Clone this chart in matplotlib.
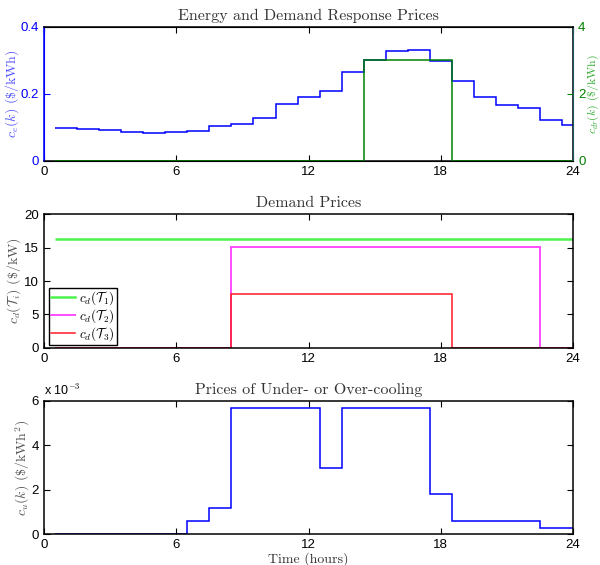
import numpy as np
import matplotlib
matplotlib.use('Agg')
import matplotlib.pyplot as plt
from matplotlib.ticker import FuncFormatter

plt.rcParams['font.family'] = ['Liberation Sans', 'DejaVu Sans']
plt.rcParams['mathtext.fontset'] = 'cm'
plt.rcParams['xtick.direction'] = 'in'
plt.rcParams['ytick.direction'] = 'in'

# hourly data, each value holds from k-0.5 to k+0.5
hour_edges = np.arange(0.5, 25.0, 1.0)

energy_price = [0.099, 0.096, 0.093, 0.086, 0.083, 0.087, 0.090, 0.104,
                0.111, 0.128, 0.170, 0.191, 0.209, 0.264, 0.301, 0.329,
                0.331, 0.299, 0.238, 0.190, 0.167, 0.158, 0.123, 0.106]
dr_price = [0, 0, 0, 0, 0, 0, 0, 0, 0, 0, 0, 0, 0, 0,
            3, 3, 3, 3, 0, 0, 0, 0, 0, 0]

demand_T1 = [16.3] * 24
demand_T2 = [0] * 8 + [15.15] * 14 + [0] * 2
demand_T3 = [0] * 8 + [8.1] * 10 + [0] * 6

cool_price = [0, 0, 0, 0, 0, 0, 0.6e-3, 1.2e-3, 5.7e-3, 5.7e-3, 5.7e-3,
              5.7e-3, 3.0e-3, 5.7e-3, 5.7e-3, 5.7e-3, 5.7e-3, 1.8e-3,
              0.6e-3, 0.6e-3, 0.6e-3, 0.6e-3, 0.3e-3, 0.3e-3]

xticks = [0, 6, 12, 18, 24]
serif = 'cmr10'
lab_col = '#555555'
title_kw = dict(family=serif, fontsize=11.5, color='#333333', pad=5)

fig = plt.figure(figsize=(6.0, 5.65), dpi=100)
ax1 = fig.add_axes([0.0733, 0.7156, 0.882, 0.237])
ax2 = fig.add_axes([0.0733, 0.3846, 0.882, 0.236])
ax3 = fig.add_axes([0.0733, 0.0543, 0.882, 0.236])

# --- top: energy and DR prices
blue = (0, 0, 1)
dgreen = (0, 0.5, 0)
ax1.stairs(energy_price, hour_edges, baseline=None, color=blue, lw=1.1)
ax1.set_xlim(0, 24)
ax1.set_ylim(0, 0.4)
ax1.set_yticks([0, 0.2, 0.4])
ax1.set_yticklabels(['0', '0.2', '0.4'])
ax1.set_xticks(xticks)
ax1.tick_params(axis='y', colors=blue, labelsize=9.5, length=4)
ax1.tick_params(axis='x', labelsize=9.5, length=4, top=True)
ax1.spines['left'].set_color(blue)
ax1.set_ylabel(r'$c_e(k)$ (\$/kWh)', color='#5555ff', fontsize=10,
               family=serif)
ax1.yaxis.set_label_coords(-0.043, 0.5)
ax1.set_title('Energy and Demand Response Prices', **title_kw)

ax1b = ax1.twinx()
ax1b.stairs(dr_price, hour_edges, baseline=None, color=dgreen, lw=1.1)
ax1b.set_ylim(0, 4)
ax1b.set_yticks([0, 2, 4])
ax1b.tick_params(axis='y', colors=dgreen, labelsize=9.5, length=4,
                 direction='in')
ax1b.spines['right'].set_color('#1f5a66')
ax1b.spines['left'].set_color(blue)
ax1b.set_ylabel(r'$c_{dr}(k)$ (\$/kWh)', color='#33aa33', fontsize=8.5,
                family=serif)
ax1b.yaxis.set_label_coords(1.0235, 0.5)

# --- middle: demand prices
ax2.stairs(demand_T1, hour_edges, baseline=None, color=(0.3, 0.95, 0.3),
           lw=1.8, label=r'$c_d(\mathcal{T}_1)$')
ax2.stairs(demand_T2, hour_edges, baseline=None, color=(1, 0.3, 1),
           lw=1.4, label=r'$c_d(\mathcal{T}_2)$')
ax2.stairs(demand_T3, hour_edges, baseline=None, color=(1, 0.1, 0.15),
           lw=1.1, label=r'$c_d(\mathcal{T}_3)$')
ax2.set_xlim(0, 24)
ax2.set_ylim(0, 20)
ax2.set_xticks(xticks)
ax2.set_yticks([0, 5, 10, 15, 20])
ax2.tick_params(labelsize=9.5, length=4, top=True, right=True)
ax2.set_ylabel(r'$c_d(\mathcal{T}_i)$ (\$/kW)', color=lab_col, fontsize=10,
               family=serif)
ax2.yaxis.set_label_coords(-0.040, 0.5)
ax2.set_title('Demand Prices', **title_kw)
leg = ax2.legend(loc='lower left', bbox_to_anchor=(0.0095, 0.02),
                 fontsize=9.5, fancybox=False, framealpha=1,
                 edgecolor='black', borderpad=0.15, labelspacing=0.0,
                 handlelength=1.85, handletextpad=0.3, borderaxespad=0.0)
leg.get_frame().set_linewidth(1.0)

# --- bottom: under/over-cooling prices
ax3.stairs(cool_price, hour_edges, baseline=None, color=blue, lw=1.1)
ax3.set_xlim(0, 24)
ax3.set_ylim(0, 6e-3)
ax3.set_xticks(xticks)
ax3.set_yticks([0, 2e-3, 4e-3, 6e-3])
ax3.yaxis.set_major_formatter(FuncFormatter(lambda v, p: f'{v * 1e3:g}'))
ax3.tick_params(labelsize=9.5, length=4, top=True, right=True)
ax3.text(0.0, 1.02, r'x 10$^{-3}$', transform=ax3.transAxes, fontsize=9,
         ha='left', va='bottom')
ax3.set_ylabel(r'$c_u(k)$ (\$/kWh$^2$)', color=lab_col, fontsize=10,
               family=serif)
ax3.yaxis.set_label_coords(-0.023, 0.5)
ax3.set_xlabel('Time (hours)', family=serif, fontsize=10, color='#333333',
               labelpad=1)
ax3.set_title('Prices of Under- or Over-cooling', **title_kw)

for ax in (ax1, ax2, ax3):
    for s in ax.spines.values():
        s.set_linewidth(1.1)

fig.savefig('out.png', dpi=100)
